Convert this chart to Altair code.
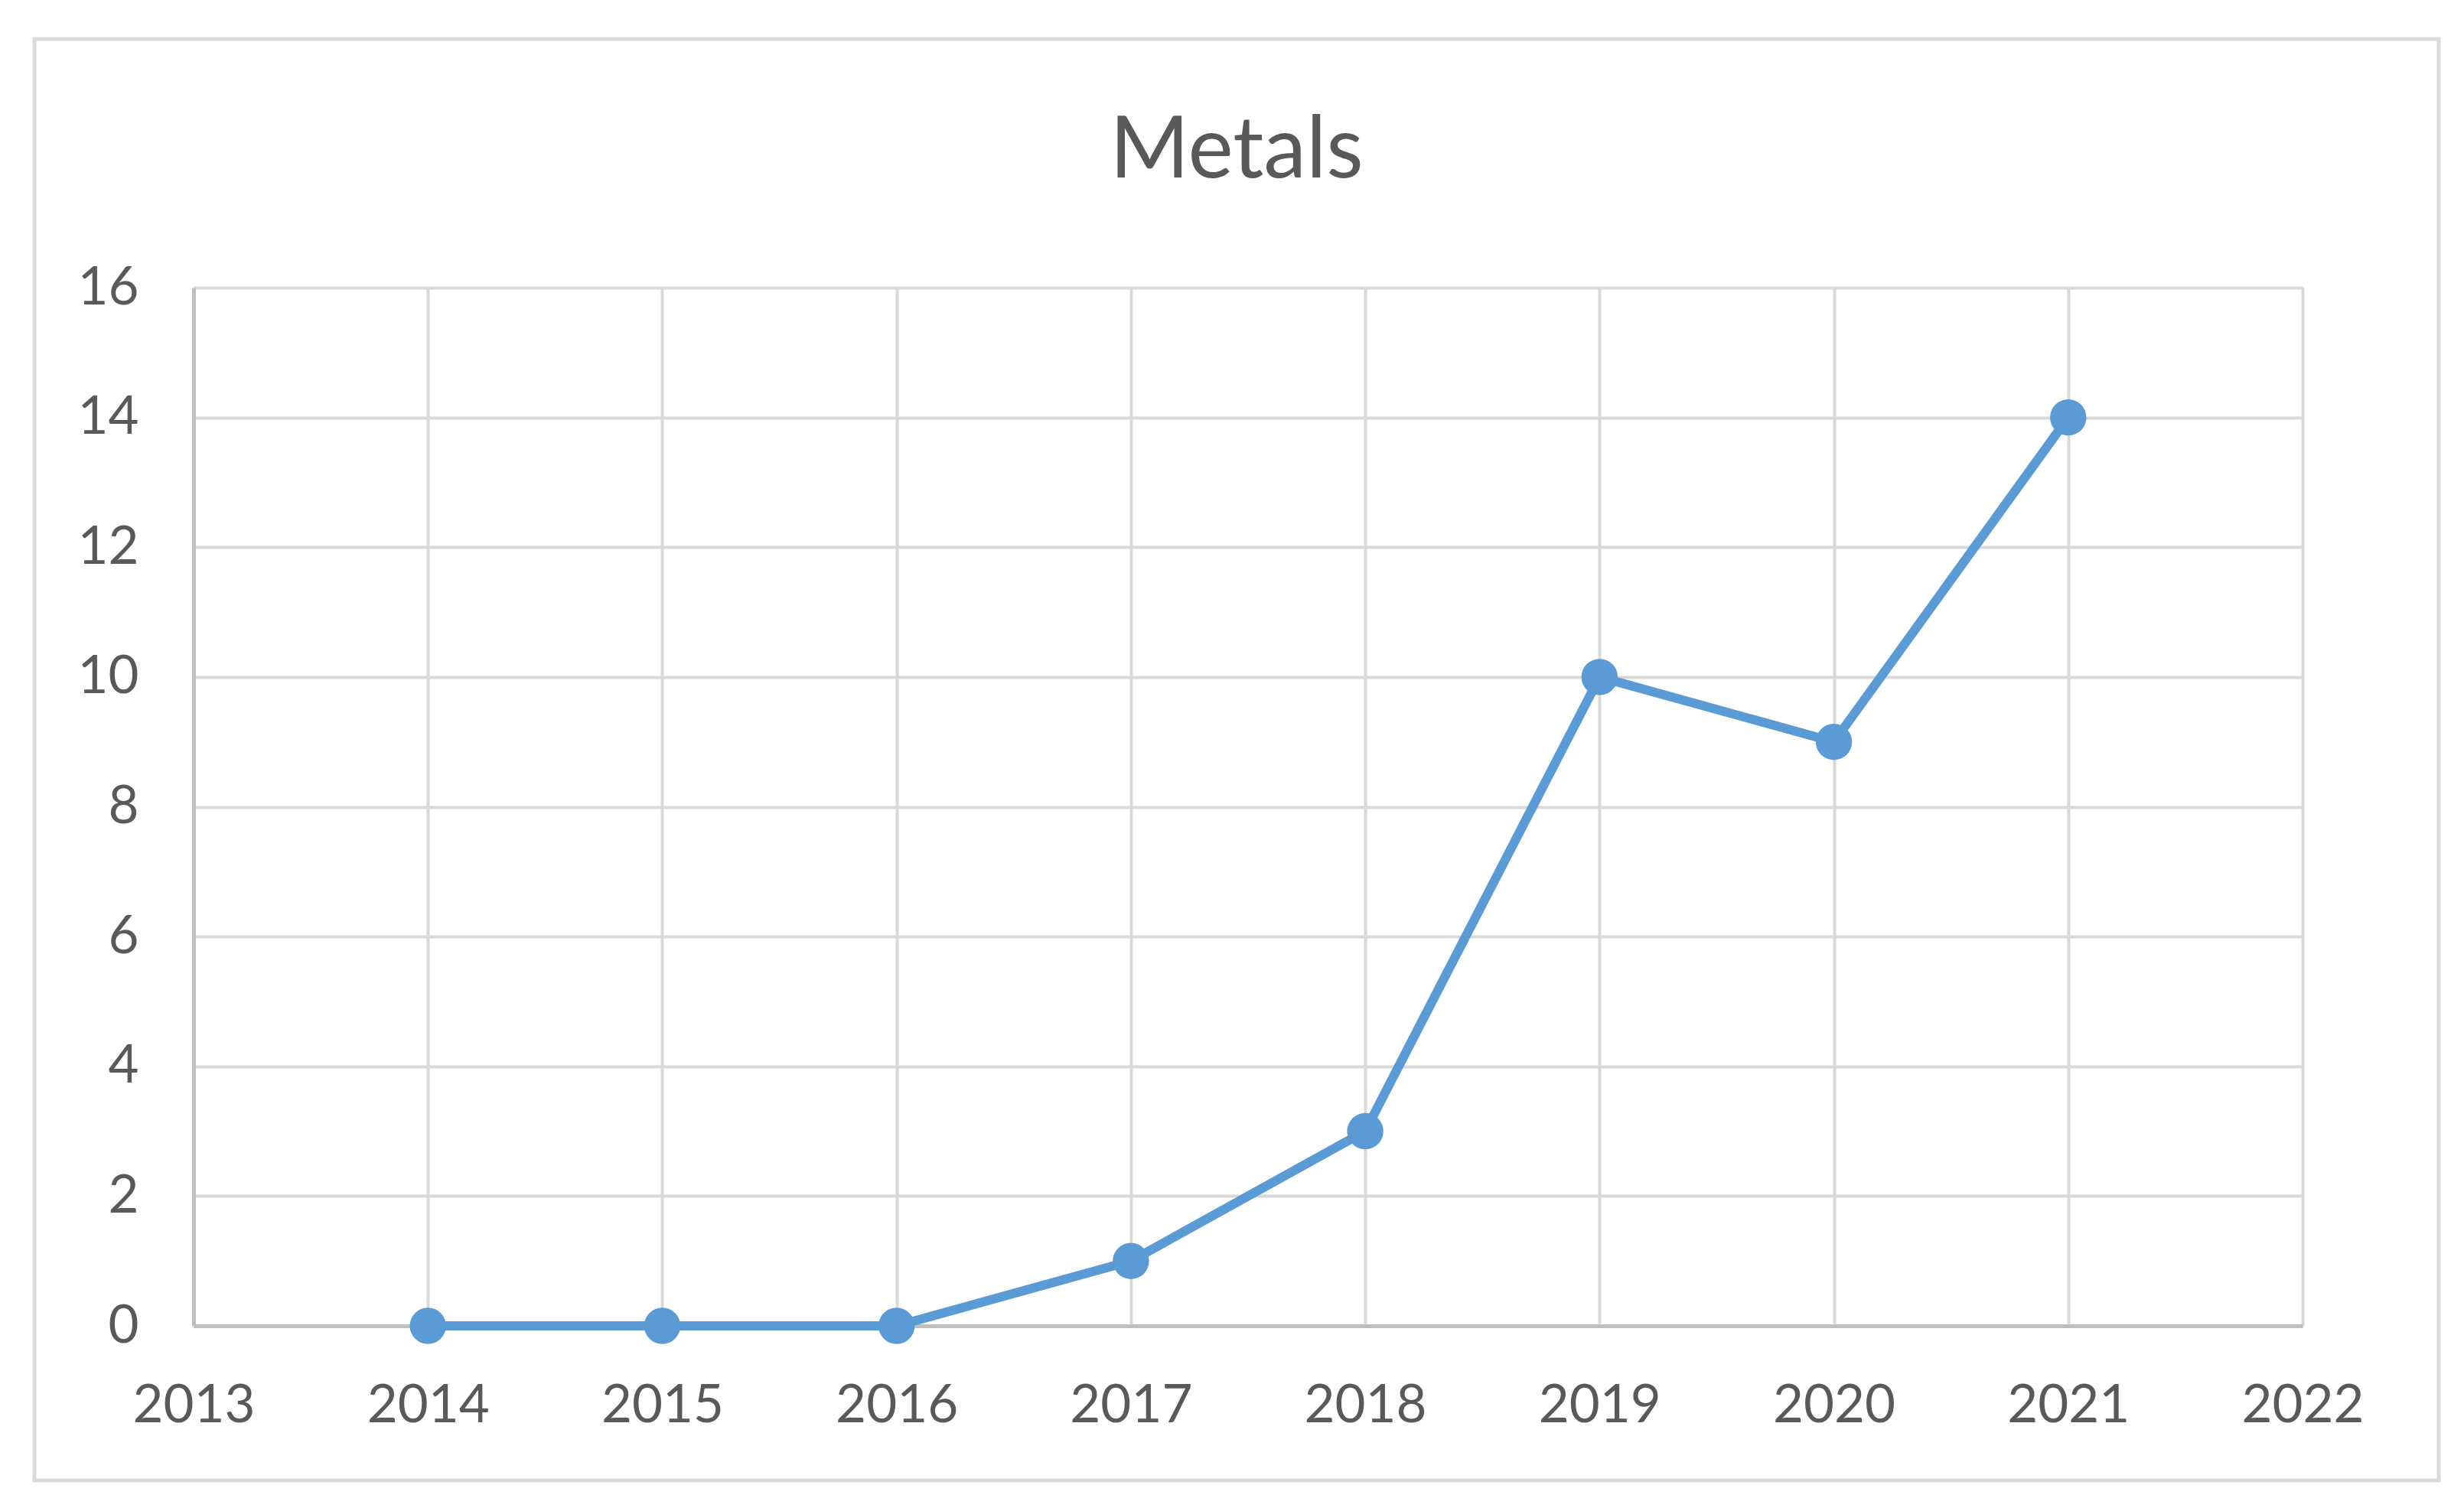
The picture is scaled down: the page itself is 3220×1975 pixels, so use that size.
import altair as alt
import pandas as pd

years = [2014, 2015, 2016, 2017, 2018, 2019, 2020, 2021]
values = [0, 0, 0, 1, 3, 10, 9, 14]
x_ticks = [2013, 2014, 2015, 2016, 2017, 2018, 2019, 2020, 2021, 2022]
y_ticks = [0, 2, 4, 6, 8, 10, 12, 14, 16]
title_text = ["Metals"]

df = pd.DataFrame({"Year": years, "Value": values})

W, H = 2756, 1357
BLUE = "#5B9BD5"
TXT = "#595959"

line = alt.Chart(df).mark_line(
    color=BLUE, strokeWidth=12,
    point=alt.OverlayMarkDef(filled=True, size=2250, color=BLUE, opacity=1),
).encode(
    x=alt.X("Year:Q", scale=alt.Scale(domain=[2013, 2022], nice=False, zero=False),
            axis=alt.Axis(values=x_ticks, format="d", title=None, labelFont="Lato",
                          labelFontSize=69, labelColor=TXT, labelPadding=70, tickSize=0,
                          domainColor="#BFBFBF", domainWidth=5, gridColor="#D9D9D9",
                          gridWidth=4, labelFlush=False)),
    y=alt.Y("Value:Q", scale=alt.Scale(domain=[0, 16], nice=False),
            axis=alt.Axis(values=y_ticks, title=None, labelFont="Lato",
                          labelFontSize=69, labelColor=TXT, labelPadding=72, tickSize=0,
                          domainColor="#BFBFBF", domainWidth=5, gridColor="#D9D9D9",
                          gridWidth=4)),
)

border = alt.Chart(df).mark_rect(
    fill=None, fillOpacity=0, stroke="#D9D9D9", strokeWidth=5
).encode(
    x=alt.value(-208), x2=alt.value(2934), y=alt.value(-325), y2=alt.value(1559)
).transform_filter("datum.Year == 2014")

title = alt.Chart(pd.DataFrame({"t": title_text})).mark_text(
    font="Lato", fontSize=112, color=TXT, align="center", baseline="alphabetic"
).encode(text="t:N", x=alt.value(1363), y=alt.value(-144))

chart = alt.layer(border, line, title).properties(
    width=W, height=H,
    padding={"left": 245, "top": 368, "right": 200, "bottom": 230},
    autosize=alt.AutoSizeParams(type="none"),
).configure_view(stroke=None).configure(background="white")

chart.save("out.html", embed_options={"renderer": "svg", "actions": False})
